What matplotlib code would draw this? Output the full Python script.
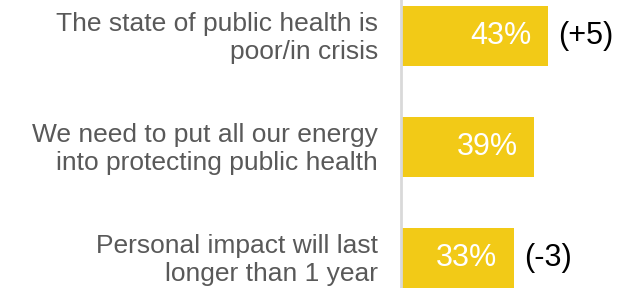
import matplotlib.pyplot as plt
from matplotlib.transforms import ScaledTranslation

plt.rcParams['font.family'] = ['Liberation Sans', 'DejaVu Sans']

labels = ['The state of public health is\npoor/in crisis',
          'We need to put all our energy\ninto protecting public health',
          'Personal impact will last\nlonger than 1 year']
values = [43, 39, 33]
changes = ['(+5)', '', '(-3)']

fig = plt.figure(figsize=(6.41, 2.88), dpi=100)
ax = fig.add_axes([401 / 641, 0, 240 / 641, 1])

pos = range(len(values))
ax.barh(pos, values, height=0.54, color='#F2CA17', zorder=2)
ax.set_xlim(0, 70.2)
ax.set_ylim(2.27, -0.324)

for i, (v, c) in enumerate(zip(values, changes)):
    ax.text(v - 4.8, i, f'{v}%', ha='right', va='center', color='white', fontsize=22)
    if c:
        ax.text(v + 2.9, i, c, ha='left', va='center', color='black', fontsize=22)

# category labels, left of the axis line
shift = ax.transData + ScaledTranslation(-23 / 100, -2 / 100, fig.dpi_scale_trans)
for i, lab in enumerate(labels):
    ax.text(0, i, lab, ha='right', va='center', fontsize=19, color='#595959',
            linespacing=1.2, transform=shift, clip_on=False)

ax.set_yticks([])
ax.set_xticks([])
for s in ['top', 'right', 'bottom']:
    ax.spines[s].set_visible(False)
ax.spines['left'].set_color('#D9D9D9')
ax.spines['left'].set_linewidth(2)

fig.savefig('out.png', dpi=100)
